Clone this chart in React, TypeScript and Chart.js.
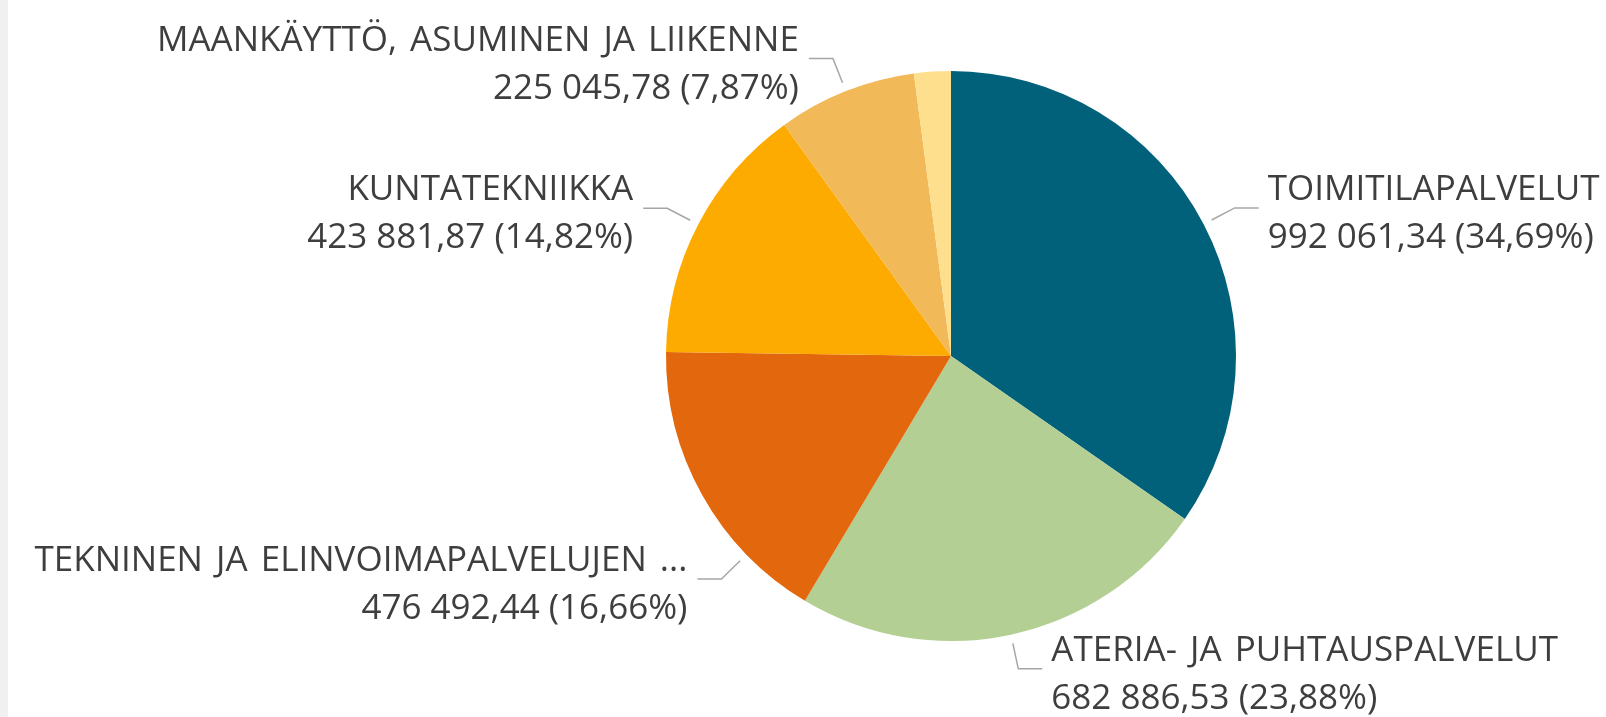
import React, { useEffect, useRef } from "react";
import { Chart, registerables } from "chart.js";

Chart.register(...registerables);

// ---- data ----
const categories: string[] = [
  "TOIMITILAPALVELUT",
  "ATERIA- JA PUHTAUSPALVELUT",
  "TEKNINEN JA ELINVOIMAPALVELUJEN ...",
  "KUNTATEKNIIKKA",
  "MAANKÄYTTÖ, ASUMINEN JA LIIKENNE",
  "MUUT",
];
const values: number[] = [992061.34, 682886.53, 476492.44, 423881.87, 225045.78, 59500];
const showLabel: boolean[] = [true, true, true, true, true, false];
const colors: string[] = ["#01607A", "#B3CF93", "#E3670C", "#FDAB00", "#F1B957", "#FEDF8E"];
// where along the slice (0..1) the leader line leaves the pie
const leaderFrac: number[] = [0.5, 0.5, 0.25, 0.5, 0.5, 0.5];

const FONT = "35px 'Open Sans', 'Noto Sans', sans-serif";
const TEXT_COLOR = "#3E3E3E";
const LEADER_COLOR = "#A6A6A6";

function fmtNumber(v: number): string {
  const [intPart, dec] = v.toFixed(2).split(".");
  const withSpaces = intPart.replace(/\B(?=(\d{3})+(?!\d))/g, " ");
  return `${withSpaces},${dec}`;
}

const labelPlugin = {
  id: "pbiLabels",
  afterDraw(chart: any) {
    const ctx = chart.ctx as any;
    const meta = chart.getDatasetMeta(0);
    const data = chart.data.datasets[0].data as number[];
    const total = data.reduce((a, b) => a + b, 0);
    ctx.save();
    meta.data.forEach((arc: any, i: number) => {
      if (!showLabel[i]) return;
      const { x, y, outerRadius, startAngle, endAngle } = arc.getProps(
        ["x", "y", "outerRadius", "startAngle", "endAngle"],
        true
      );
      const a = startAngle + leaderFrac[i] * (endAngle - startAngle);
      const cx = Math.cos(a);
      const sy = Math.sin(a);
      const p0x = x + cx * (outerRadius + 9);
      const p0y = y + sy * (outerRadius + 9);
      const p1x = x + cx * (outerRadius + 35);
      const p1y = y + sy * (outerRadius + 35);
      const right = cx >= 0;
      const p2x = p1x + (right ? 24 : -24);
      const p2y = p1y;

      ctx.strokeStyle = LEADER_COLOR;
      ctx.lineWidth = 1.5;
      ctx.beginPath();
      ctx.moveTo(p0x, p0y);
      ctx.lineTo(p1x, p1y);
      ctx.lineTo(p2x, p2y);
      ctx.stroke();

      const pct = ((data[i] / total) * 100).toFixed(2).replace(".", ",");
      const line2 = `${fmtNumber(data[i])} (${pct}%)`;
      ctx.font = FONT;
      ctx.fillStyle = TEXT_COLOR;
      ctx.textBaseline = "alphabetic";
      ctx.textAlign = right ? "left" : "right";
      const tx = right ? p2x + 9 : p2x - 10;
      ctx.wordSpacing = "4px";
      ctx.fillText(String(chart.data.labels[i]), tx, p2y - 8);
      ctx.wordSpacing = "0px";
      ctx.fillText(line2, tx, p2y + 40);
    });
    ctx.restore();
  },
};

export default function App() {
  const canvasRef = useRef<HTMLCanvasElement | null>(null);

  useEffect(() => {
    const canvas = canvasRef.current;
    if (!canvas) return;
    const chart = new Chart(canvas, {
      type: "pie",
      data: {
        labels: categories,
        datasets: [
          {
            data: values,
            backgroundColor: colors,
            borderWidth: 0,
          },
        ],
      },
      options: {
        animation: false,
        responsive: false,
        maintainAspectRatio: false,
        layout: {
          padding: { left: 666, right: 370, top: 71, bottom: 76 },
        },
        plugins: {
          legend: { display: false },
          tooltip: { enabled: false },
        },
      },
      plugins: [labelPlugin],
    });
    return () => chart.destroy();
  }, []);

  return (
    <div
      style={{
        position: "fixed",
        left: 0,
        top: 0,
        width: 1606,
        height: 717,
        background: "#ffffff",
        overflow: "hidden",
      }}
    >
      <div
        style={{
          position: "absolute",
          left: 0,
          top: 0,
          width: 8,
          height: 717,
          background: "#F0F0F0",
        }}
      />
      <canvas
        ref={canvasRef}
        width={1606}
        height={717}
        style={{ position: "absolute", left: 0, top: 0, width: 1606, height: 717 }}
      />
    </div>
  );
}
